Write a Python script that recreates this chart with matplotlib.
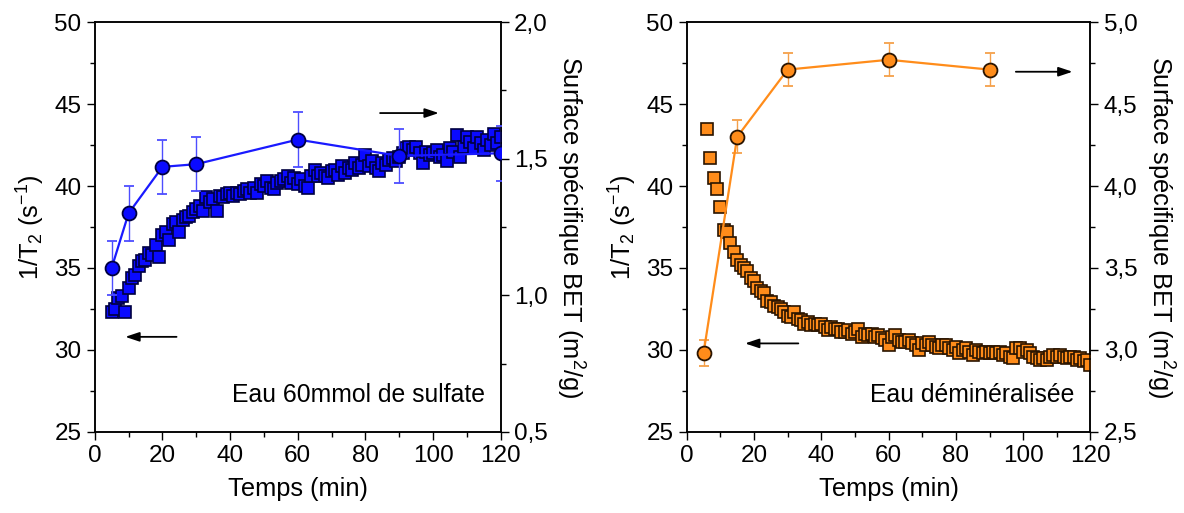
import matplotlib
matplotlib.use("Agg")
import matplotlib.pyplot as plt
from matplotlib.ticker import MultipleLocator, FuncFormatter

plt.rcParams['font.family'] = ['Liberation Sans', 'DejaVu Sans']
plt.rcParams['mathtext.fontset'] = 'custom'
plt.rcParams['mathtext.rm'] = 'Liberation Sans'
plt.rcParams['mathtext.default'] = 'regular'

# ======================
# data
# ======================
# left panel : eau 60 mmol de sulfate
t_sulf = list(range(5, 121))
t2_sulf = [32.3, 32.5, 33.2, 33.3, 32.3, 33.8, 34.4, 34.6, 35.1, 35.4,
           35.5, 35.9, 35.8, 36.4, 35.7, 37.0, 37.2, 36.7, 37.7, 37.8,
           37.2, 37.9, 38.1, 38.2, 38.4, 38.6, 38.8, 38.5, 39.3, 39.0,
           39.2, 38.5, 39.4, 39.3, 39.5, 39.6, 39.4, 39.6, 39.5, 39.7,
           39.8, 39.6, 39.9, 39.6, 40.1, 40.0, 40.3, 39.9, 39.8, 40.2,
           40.3, 40.4, 40.6, 40.2, 40.5, 40.1, 40.4, 40.0, 39.9, 40.6,
           41.0, 40.6, 40.8, 40.6, 40.5, 40.9, 41.0, 40.7, 41.2, 40.8,
           41.1, 41.0, 41.4, 41.1, 41.3, 41.9, 41.2, 41.5, 41.1, 40.9,
           41.4, 41.3, 41.6, 41.7, 41.5, 41.8, 42.0, 42.3, 42.4, 42.2,
           42.4, 42.0, 41.4, 42.1, 41.9, 42.0, 42.2, 41.8, 41.9, 41.5,
           42.3, 42.1, 43.1, 41.8, 42.4, 43.0, 42.7, 42.3, 43.0, 42.6,
           42.2, 42.8, 42.5, 43.2, 42.6, 43.0]
bet_t_sulf = [5, 10, 20, 30, 60, 90, 120]
bet_sulf = [1.10, 1.30, 1.47, 1.48, 1.57, 1.51, 1.52]
bet_err_sulf = [0.10, 0.10, 0.10, 0.10, 0.10, 0.10, 0.10]

# right panel : eau déminéralisée
t_demin = list(range(6, 121))
t2_demin = [43.5, 41.7, 40.5, 39.8, 38.7, 37.3, 37.2, 36.5, 36.0, 35.5,
            35.2, 35.0, 34.8, 34.4, 34.2, 33.8, 33.6, 33.5, 33.0, 32.9,
            32.7, 32.6, 32.5, 32.3, 32.1, 32.0, 32.3, 31.9, 31.8, 31.6,
            31.7, 31.5, 31.6, 31.5, 31.6, 31.4, 31.2, 31.4, 31.3, 31.3,
            31.1, 31.1, 31.2, 31.0, 31.1, 31.3, 30.8, 31.0, 30.9, 31.0,
            30.8, 30.9, 30.7, 30.6, 30.3, 30.8, 30.9, 30.6, 30.5, 30.5,
            30.6, 30.4, 30.3, 30.0, 30.4, 30.3, 30.5, 30.3, 30.2, 30.1,
            30.3, 30.3, 30.1, 30.0, 30.2, 29.8, 30.0, 30.1, 29.9, 29.7,
            30.0, 29.9, 29.8, 29.9, 29.8, 29.9, 29.8, 29.9, 29.7, 29.8,
            29.6, 29.5, 30.1, 30.1, 29.9, 30.0, 29.8, 29.6, 29.5, 29.4,
            29.5, 29.4, 29.6, 29.7, 29.6, 29.7, 29.6, 29.5, 29.6, 29.6,
            29.4, 29.5, 29.3, 29.4, 29.1]
bet_t_demin = [5, 15, 30, 60, 90]
bet_demin = [2.98, 4.30, 4.71, 4.77, 4.71]
bet_err_demin = [0.08, 0.10, 0.10, 0.10, 0.10]

comma = FuncFormatter(lambda v, p: f"{v:.1f}".replace(".", ","))

fig = plt.figure(figsize=(11.84, 5.13), dpi=100)


def panel(rect, t, t2, bt, bet, berr, fill, edge, line, errc, bet_lim, label,
          arrow_r, arrow_l):
    ax = fig.add_axes(rect)
    ax.plot(t, t2, "s", ms=8.5, mfc=fill, mec=edge, mew=1.2, zorder=3)
    ax.set_xlim(0, 120)
    ax.set_ylim(25, 50)
    ax.xaxis.set_major_locator(MultipleLocator(20))
    ax.xaxis.set_minor_locator(MultipleLocator(10))
    ax.yaxis.set_major_locator(MultipleLocator(5))
    ax.yaxis.set_minor_locator(MultipleLocator(2.5))
    ax.tick_params(which="major", direction="out", length=6, width=1,
                   labelsize=17.5, top=False)
    ax.tick_params(which="minor", direction="out", length=3.5, width=1,
                   top=False)
    ax.set_xlabel("Temps (min)", fontsize=18.3, labelpad=7)
    ax.set_ylabel("1/T$_2$ (s$^{-1}$)", fontsize=18.3, labelpad=5)
    ax.text(0.96, 0.09, label, transform=ax.transAxes, ha="right",
            va="center", fontsize=17.8)
    ax.annotate("", xy=arrow_l[1], xytext=arrow_l[0],
                arrowprops=dict(arrowstyle="-|>,head_length=0.6,head_width=0.2",
                                color="black", lw=1.3, mutation_scale=14))

    ax2 = ax.twinx()
    ax2.errorbar(bt, bet, yerr=berr, fmt="-o", color=line, ms=10,
                 mfc=fill, mec=edge, mew=1.3, lw=1.6, ecolor=errc,
                 elinewidth=1, capsize=3.5, capthick=1, zorder=4)
    ax2.set_ylim(*bet_lim)
    ax2.yaxis.set_major_locator(MultipleLocator(0.5))
    ax2.yaxis.set_minor_locator(MultipleLocator(0.25))
    ax2.yaxis.set_major_formatter(comma)
    ax2.tick_params(which="major", direction="out", length=6, width=1,
                    labelsize=17.5)
    ax2.tick_params(which="minor", direction="out", length=3.5, width=1)
    ax2.set_ylabel("Surface spécifique BET (m$^2$/g)", fontsize=18.3,
                   rotation=270, labelpad=28)
    ax.annotate("", xy=arrow_r[1], xytext=arrow_r[0],
                arrowprops=dict(arrowstyle="-|>,head_length=0.6,head_width=0.2",
                                color="black", lw=1.3, mutation_scale=14))
    for a in (ax, ax2):
        for s in a.spines.values():
            s.set_linewidth(1.1)
    return ax, ax2


panel([0.080, 0.158, 0.343, 0.799], t_sulf, t2_sulf, bet_t_sulf, bet_sulf,
      bet_err_sulf, "#0a0aff", "#000040", "#1a1aff", "#4d4dff", (0.5, 2.0),
      "Eau 60mmol de sulfate",
      ((83.5, 44.45), (102.5, 44.45)), ((25, 30.8), (8.2, 30.8)))

panel([0.580, 0.158, 0.341, 0.799], t_demin, t2_demin, bet_t_demin,
      bet_demin, bet_err_demin, "#ff8c1a", "#2a1400", "#ff8c1a", "#f5a04a",
      (2.5, 5.0), "Eau déminéralisée",
      ((97, 46.97), (115.5, 46.97)), ((34, 30.4), (16.5, 30.4)))

fig.savefig("out.png", dpi=100)
